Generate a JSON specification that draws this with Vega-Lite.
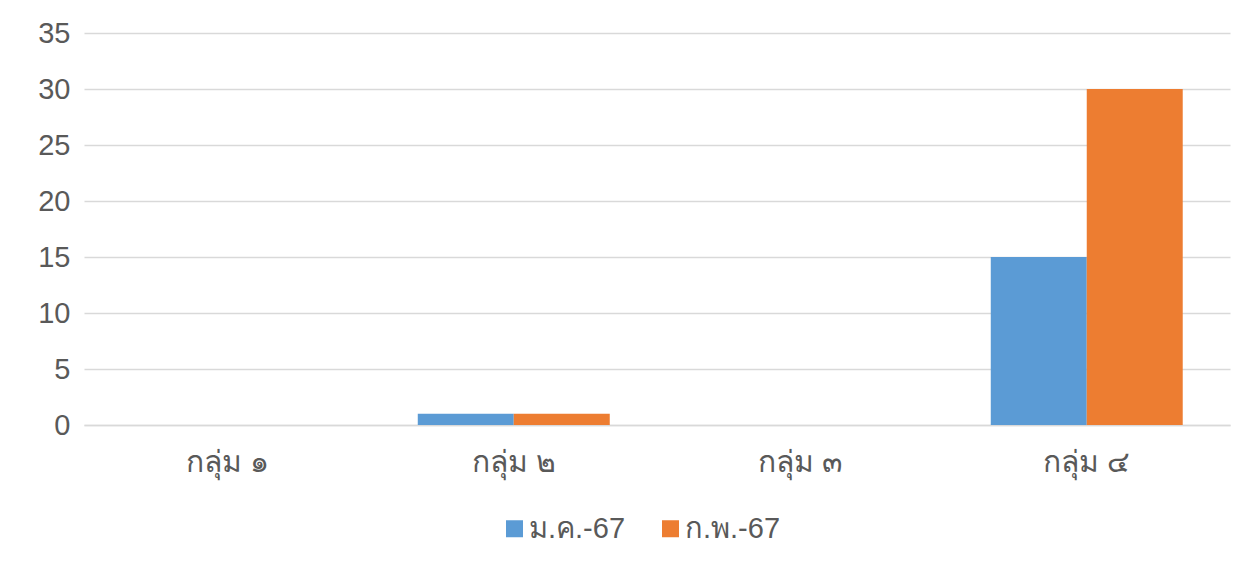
{
  "$schema": "https://vega.github.io/schema/vega-lite/v6.json",
  "width": 1146,
  "height": 392,
  "autosize": {"type": "none"},
  "padding": {"left": 84, "top": 33, "right": 25, "bottom": 147},
  "background": "white",
  "data": {
    "values": [
      {"group": "กลุ่ม ๑", "month": "ม.ค.-67", "value": 0},
      {"group": "กลุ่ม ๑", "month": "ก.พ.-67", "value": 0},
      {"group": "กลุ่ม ๒", "month": "ม.ค.-67", "value": 1},
      {"group": "กลุ่ม ๒", "month": "ก.พ.-67", "value": 1},
      {"group": "กลุ่ม ๓", "month": "ม.ค.-67", "value": 0},
      {"group": "กลุ่ม ๓", "month": "ก.พ.-67", "value": 0},
      {"group": "กลุ่ม ๔", "month": "ม.ค.-67", "value": 15},
      {"group": "กลุ่ม ๔", "month": "ก.พ.-67", "value": 30}
    ]
  },
  "mark": {"type": "bar"},
  "encoding": {
    "x": {
      "field": "group",
      "type": "nominal",
      "sort": null,
      "scale": {"paddingInner": 0.33, "paddingOuter": 0.165},
      "axis": {
        "title": null,
        "labelAngle": 0,
        "ticks": false,
        "domainColor": "#D9D9D9",
        "domainWidth": 1.5,
        "labelFontSize": 30,
        "labelColor": "#595959",
        "labelFont": "Noto Sans",
        "labelPadding": 22
      }
    },
    "xOffset": {"field": "month", "type": "nominal", "sort": ["ม.ค.-67", "ก.พ.-67"]},
    "y": {
      "field": "value",
      "type": "quantitative",
      "scale": {"domain": [0, 35]},
      "axis": {
        "title": null,
        "values": [0, 5, 10, 15, 20, 25, 30, 35],
        "ticks": false,
        "domain": false,
        "gridColor": "#D9D9D9",
        "gridWidth": 1.5,
        "labelFontSize": 29,
        "labelColor": "#595959",
        "labelFont": "Liberation Sans",
        "labelPadding": 14
      }
    },
    "color": {
      "field": "month",
      "type": "nominal",
      "sort": ["ม.ค.-67", "ก.พ.-67"],
      "scale": {"domain": ["ม.ค.-67", "ก.พ.-67"], "range": ["#5B9BD5", "#ED7D31"]},
      "legend": {
        "title": null,
        "orient": "none",
        "legendX": 416,
        "legendY": 481,
        "direction": "horizontal",
        "symbolType": "square",
        "symbolSize": 289,
        "symbolStrokeWidth": 0,
        "labelFontSize": 29,
        "labelColor": "#595959",
        "labelFont": "Liberation Sans",
        "labelOffset": 0,
        "columnPadding": 30
      }
    }
  },
  "config": {
    "view": {"stroke": null}
  }
}
